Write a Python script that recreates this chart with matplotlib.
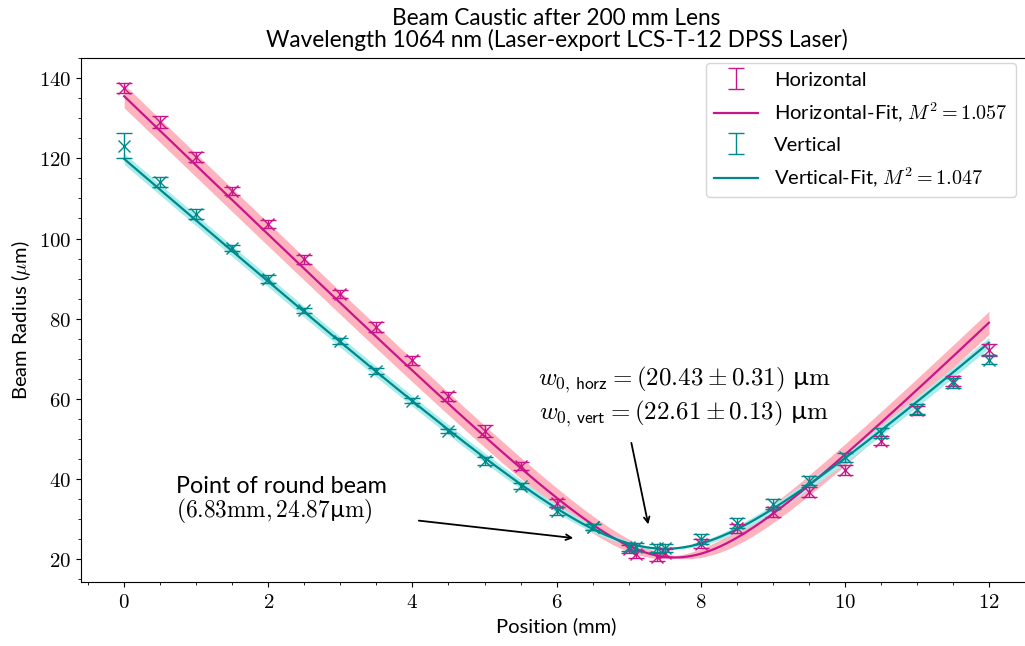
import numpy as np
import matplotlib
matplotlib.use('Agg')
import matplotlib.pyplot as plt
from matplotlib.ticker import MultipleLocator, FuncFormatter

plt.rcParams['font.family'] = ['Lato', 'DejaVu Sans']
plt.rcParams['mathtext.fontset'] = 'cm'

# measured beam radius (um) vs position (mm)
pos_h = [0, 0.5, 1, 1.5, 2, 2.5, 3, 3.5, 4, 4.5, 5, 5.5, 6, 6.5, 7, 7.1, 7.4, 7.5,
         8, 8.5, 9, 9.5, 10, 10.5, 11, 11.5, 12]
rad_h = [137.6, 129.1, 120.4, 111.9, 103.5, 94.8, 86.2, 78.0, 69.6, 60.6, 52.0, 43.2, 34.0, 28.0,
         22.5, 21.3, 20.6, 21.6, 23.9, 27.7, 31.7, 36.8, 42.3, 49.6, 57.1, 64.4, 72.1]
err_h = [1.2, 1.5, 1.3, 1.0, 1.0, 1.2, 1.0, 1.2, 1.2, 1.2, 1.6, 1.0, 1.0, 0.8,
         1.0, 1.0, 1.0, 1.0, 1.2, 1.2, 1.2, 1.2, 1.2, 1.2, 1.2, 1.2, 1.5]

pos_v = [0, 0.5, 1, 1.5, 2, 2.5, 3, 3.5, 4, 4.5, 5, 5.5, 6, 6.5, 7, 7.1, 7.4, 7.5,
         8, 8.5, 9, 9.5, 10, 10.5, 11, 11.5, 12]
rad_v = [123.2, 114.1, 106.1, 97.6, 90.0, 82.1, 74.5, 67.0, 59.5, 52.0, 44.5, 38.2, 32.0, 28.0,
         23.1, 23.0, 22.9, 22.7, 25.0, 29.0, 33.8, 39.6, 45.4, 51.5, 57.4, 64.0, 69.8]
err_v = [3.2, 1.3, 1.2, 0.8, 1.0, 0.6, 0.8, 0.8, 0.6, 0.6, 1.0, 0.8, 1.0, 0.8,
         1.0, 1.0, 1.0, 1.0, 1.2, 1.2, 1.2, 1.2, 1.2, 1.2, 1.2, 1.2, 1.2]

# gaussian beam fit parameters: waist (um), waist position (mm), rayleigh length (mm)
fit_h = dict(w0=20.43, dw0=0.31, z0=7.645, dz0=0.15, zr=1.166, m2=1.057)
fit_v = dict(w0=22.61, dw0=0.13, z0=7.506, dz0=0.08, zr=1.442, m2=1.047)

col_h, band_h = '#c8168a', '#ffb3be'
col_v, band_v = '#00898a', '#a8ecec'


def beam(z, w0, z0, zr):
    return w0 * np.sqrt(1 + ((z - z0) / zr) ** 2)


fig = plt.figure(figsize=(10.25, 6.46), dpi=100)
ax = fig.add_axes([0.079, 0.099, 0.928, 0.811])

z = np.linspace(0, 12, 400)
handles = []
for pos, rad, err, fit, col, bcol, name in [
        (pos_h, rad_h, err_h, fit_h, col_h, band_h, 'Horizontal'),
        (pos_v, rad_v, err_v, fit_v, col_v, band_v, 'Vertical')]:
    curves = [beam(z, fit['w0'], fit['z0'] + b * fit['dz0'], fit['zr']) for b in (-1, 1)]
    ax.fill_between(z, np.min(curves, axis=0) - fit['dw0'], np.max(curves, axis=0) + fit['dw0'],
                    color=bcol, linewidth=0, zorder=1)
    eb = ax.errorbar(pos, rad, yerr=err, fmt='none', ecolor=col, elinewidth=1,
                     capsize=6, capthick=1, zorder=3, label=name)
    ax.plot(pos, rad, 'x', color=col, markersize=9, markeredgewidth=1, zorder=3)
    ln, = ax.plot(z, beam(z, fit['w0'], fit['z0'], fit['zr']), color=col, linewidth=1.6,
                  zorder=2, label=f'{name}-Fit, $M^2 = {fit["m2"]:.3f}$')
    handles += [eb, ln]

ax.set_xlim(-0.6, 12.6)
ax.set_ylim(14.3, 145)
ax.xaxis.set_major_locator(MultipleLocator(2))
ax.xaxis.set_minor_locator(MultipleLocator(0.5))
ax.yaxis.set_major_locator(MultipleLocator(20))
ax.yaxis.set_minor_locator(MultipleLocator(5))
cm_fmt = FuncFormatter(lambda v, p: f'${v:g}$')
ax.xaxis.set_major_formatter(cm_fmt)
ax.yaxis.set_major_formatter(cm_fmt)
ax.tick_params(labelsize=15)

ax.set_xlabel('Position (mm)', fontsize=14.5)
ax.set_ylabel(r'Beam Radius ($\mu$m)', fontsize=14.5)
ax.set_title('Beam Caustic after 200 mm Lens\nWavelength 1064 nm (Laser-export LCS-T-12 DPSS Laser)',
             fontsize=16.3, linespacing=1.0, pad=8)

ax.legend(handles=handles, loc='upper right', fontsize=14.5, borderaxespad=0,
          bbox_to_anchor=(0.983, 0.99), handlelength=2.2, labelspacing=0.6)

# annotations
ax.text(0.72, 34.5, 'Point of round beam\n$(6.83\\mathrm{mm}, 24.87$µ$\\mathrm{m})$',
        fontsize=16.8, ha='left', va='center', linespacing=1.0)
ax.annotate('', xy=(6.27, 25.2), xytext=(4.05, 29.7),
            arrowprops=dict(arrowstyle='->', color='black', lw=1.3))
ax.text(7.77, 64.7, r'$w_{0,\,\mathsf{horz}} = (20.43 \pm 0.31)\ $µ$\mathrm{m}$',
        fontsize=18, ha='center', va='center')
ax.text(7.77, 56.4, r'$w_{0,\,\mathsf{vert}} = (22.61 \pm 0.13)\ $µ$\mathrm{m}$',
        fontsize=18, ha='center', va='center')
ax.annotate('', xy=(7.28, 28.0), xytext=(7.03, 49.7),
            arrowprops=dict(arrowstyle='->', color='black', lw=1.3))

fig.savefig('out.png', dpi=100)
